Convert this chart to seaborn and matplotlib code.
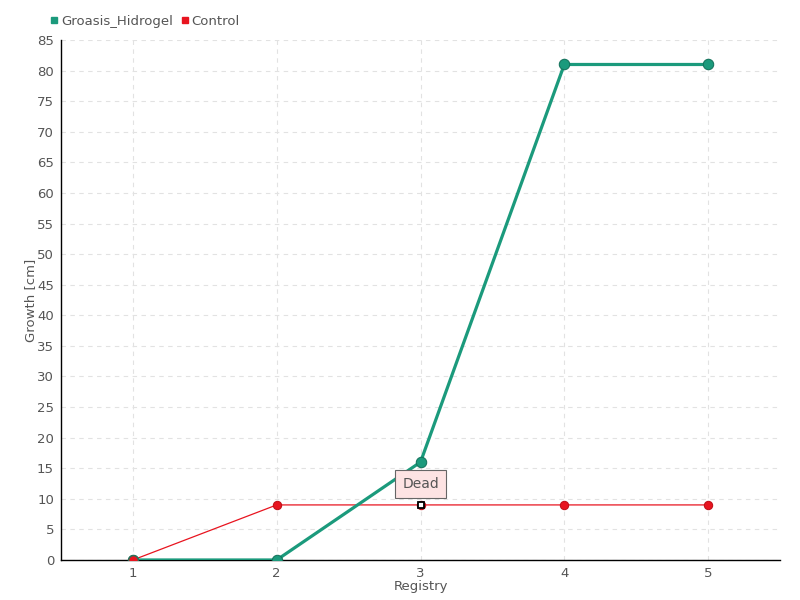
import pandas as pd
import matplotlib
matplotlib.use("Agg")
import matplotlib.pyplot as plt
import seaborn as sns

# --- Data ---
registry = [1, 2, 3, 4, 5]
groasis = [0, 0, 16, 81, 81]
control = [0, 9, 9, 9, 9]
y_ticks = list(range(0, 90, 5))

df = pd.DataFrame({
    "Registry": registry * 2,
    "Growth": groasis + control,
    "Series": ["Groasis_Hidrogel"] * 5 + ["Control"] * 5,
})

sns.set_style("white")
plt.rcParams["font.family"] = ["DejaVu Sans"]

green = "#1b9a7c"
red = "#e8141f"
txt = "#555555"

fig = plt.figure(figsize=(8, 6), dpi=100)
ax = fig.add_axes([0.07625, 0.0667, 0.89875, 0.8666])

# --- Plotting ---
sns.lineplot(data=df[df["Series"] == "Control"], x="Registry", y="Growth",
             color=red, linewidth=0.9, marker="o", markersize=6,
             markeredgecolor="#c01018", ax=ax, zorder=3)
sns.lineplot(data=df[df["Series"] == "Groasis_Hidrogel"], x="Registry", y="Growth",
             color=green, linewidth=2.3, marker="o", markersize=7.5,
             markeredgecolor="#14735c", ax=ax, zorder=4)
# red first point drawn on top of the green one
ax.plot(registry[0], control[0], "o", color=red, markersize=7,
        markeredgecolor="#2f6e57", zorder=5)

# "Dead" marker and tooltip
ax.plot(registry[2], control[2], "s", color="white", markersize=5,
        markeredgecolor="black", markeredgewidth=1.3, zorder=6)
ax.annotate("Dead", xy=(registry[2], control[2]), xytext=(0, 15),
            textcoords="offset points", ha="center", va="center",
            fontsize=10, color=txt,
            bbox=dict(boxstyle="square,pad=0.5", fc="#fde3e3", ec="#666666", lw=0.8),
            zorder=7)

ax.set_xlim(0.5, 5.5)
ax.set_ylim(0, 85)
ax.set_xticks(registry)
ax.set_yticks(y_ticks)
ax.grid(True, color="#e2e2e2", linestyle=(0, (4, 4)), linewidth=0.8)
for s in ["top", "right"]:
    ax.spines[s].set_visible(False)
for s in ["left", "bottom"]:
    ax.spines[s].set_color("black")
    ax.spines[s].set_linewidth(1)
ax.tick_params(axis="both", direction="inout", length=6, width=1,
               colors="black", labelcolor=txt, labelsize=9.5, pad=2)
ax.set_xlabel("Registry", color=txt, fontsize=9.5, labelpad=0)
ax.set_ylabel("Growth [cm]", color=txt, fontsize=9.5, labelpad=0)

# legend above the plot
handles = [plt.Line2D([], [], marker="s", color=green, linestyle="", markersize=5),
           plt.Line2D([], [], marker="s", color=red, linestyle="", markersize=5)]
fig.legend(handles, ["Groasis_Hidrogel", "Control"], loc="upper left",
           bbox_to_anchor=(0.045, 0.995), ncol=2, frameon=False,
           fontsize=9.5, labelcolor=txt, handletextpad=0.0,
           columnspacing=0.4, handlelength=1.0)

fig.savefig("out.png", dpi=100)
